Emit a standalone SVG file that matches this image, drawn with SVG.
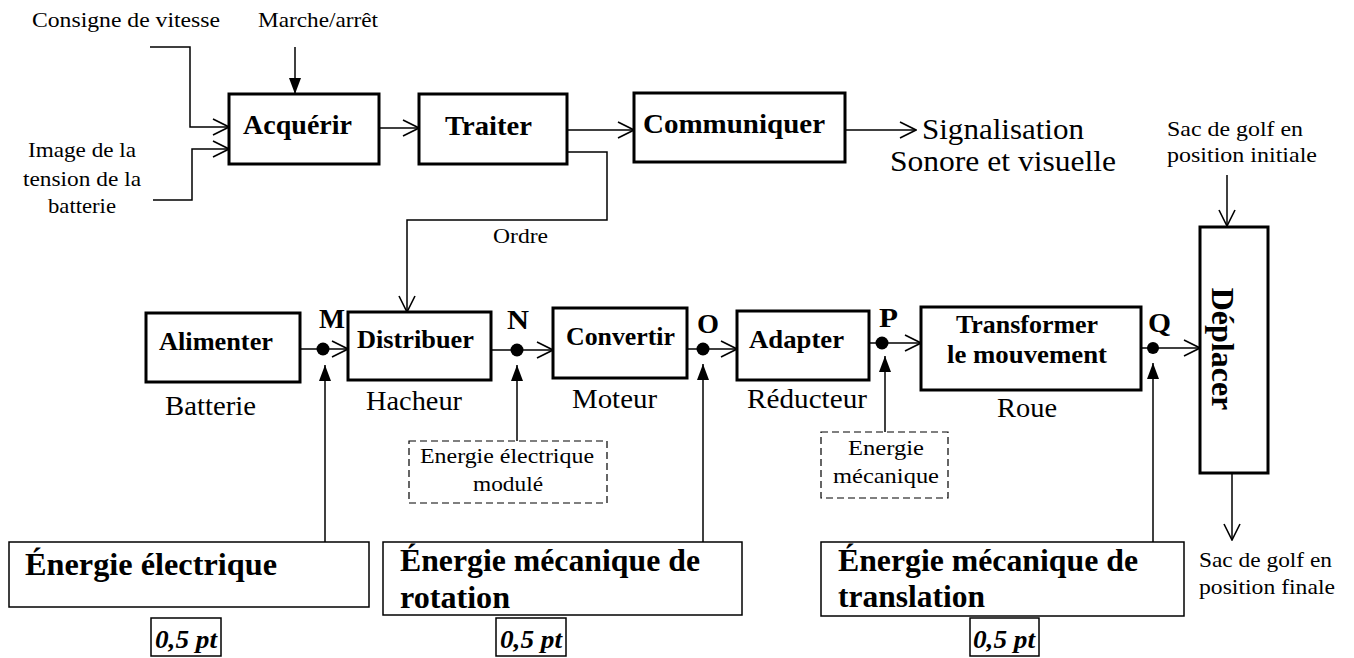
<svg xmlns="http://www.w3.org/2000/svg" width="1354" height="658" viewBox="0 0 1354 658" font-family="'Liberation Serif', 'DejaVu Serif', serif">
<style>
text{font-family:'Liberation Serif','DejaVu Serif',serif;fill:#000}
.s{font-size:22px}
.m{font-size:27px}
.sig{font-size:29px}
.fb{font-weight:bold;font-size:28px}
.fb2{font-weight:bold;font-size:26px}
.big{font-weight:bold;font-size:32px}
.lbl{font-weight:bold;font-size:28px}
.pt{font-weight:bold;font-style:italic;font-size:26px}
.box{fill:#fff;stroke:#000;stroke-width:3}
.tbox{fill:#fff;stroke:#000;stroke-width:1.5}
.dbox{fill:#fff;stroke:#000;stroke-width:1.2;stroke-dasharray:7 4}
.ln{fill:none;stroke:#000;stroke-width:1.5}
</style>
<defs>
<marker id="open" viewBox="0 0 18 18" markerWidth="18" markerHeight="18" refX="17" refY="9" orient="auto" markerUnits="userSpaceOnUse">
<path d="M1,1 L17,9 L1,17" fill="none" stroke="#000" stroke-width="1.6"/>
</marker>
<marker id="fill" viewBox="0 0 16 12" markerWidth="16" markerHeight="12" refX="16" refY="6" orient="auto" markerUnits="userSpaceOnUse">
<path d="M0,0 L16,6 L0,12 Z" fill="#000"/>
</marker>
</defs>

<g id="connectors">
<polyline class="ln" points="150,47 190,47 190,127 229,127" marker-end="url(#open)"/>
<polyline class="ln" points="153,200 192,200 192,149 229,149" marker-end="url(#open)"/>
<line class="ln" x1="295" y1="47" x2="295" y2="94" marker-end="url(#fill)"/>
<line class="ln" x1="379" y1="128" x2="419" y2="128" marker-end="url(#open)"/>
<line class="ln" x1="567" y1="130" x2="634" y2="130" marker-end="url(#open)"/>
<line class="ln" x1="845" y1="130" x2="916" y2="130" marker-end="url(#open)"/>
<polyline class="ln" points="567,152 607,152 607,220 407,220 407,312" marker-end="url(#open)"/>
<line class="ln" x1="1227" y1="175" x2="1227" y2="226" marker-end="url(#open)"/>
<line class="ln" x1="1232" y1="473" x2="1232" y2="540" marker-end="url(#open)"/>

<line class="ln" x1="300" y1="349" x2="348" y2="349" marker-end="url(#open)"/>
<line class="ln" x1="491" y1="350" x2="553" y2="350" marker-end="url(#open)"/>
<line class="ln" x1="687" y1="349" x2="737" y2="349" marker-end="url(#open)"/>
<line class="ln" x1="869" y1="343" x2="921" y2="343" marker-end="url(#open)"/>
<line class="ln" x1="1141" y1="348" x2="1200" y2="348" marker-end="url(#open)"/>

<circle cx="323" cy="349" r="6.5"/>
<circle cx="517" cy="350" r="6.5"/>
<circle cx="703" cy="349" r="6.5"/>
<circle cx="882" cy="343" r="6.5"/>
<circle cx="1153" cy="348" r="6"/>

<line class="ln" x1="325" y1="542" x2="325" y2="365" marker-end="url(#fill)"/>
<line class="ln" x1="517" y1="441" x2="517" y2="365" marker-end="url(#fill)"/>
<line class="ln" x1="703" y1="542" x2="703" y2="364" marker-end="url(#fill)"/>
<line class="ln" x1="885" y1="432" x2="885" y2="356" marker-end="url(#fill)"/>
<line class="ln" x1="1153" y1="542" x2="1153" y2="363" marker-end="url(#fill)"/>
</g>

<g id="inputs">
<text class="s" x="32" y="27" textLength="188" lengthAdjust="spacingAndGlyphs">Consigne de vitesse</text>
<text class="s" x="258" y="27" textLength="120" lengthAdjust="spacingAndGlyphs">Marche/arrêt</text>
<text class="s" x="28" y="157" textLength="108" lengthAdjust="spacingAndGlyphs">Image de la</text>
<text class="s" x="23" y="186" textLength="118" lengthAdjust="spacingAndGlyphs">tension de la</text>
<text class="s" x="48" y="213" textLength="68" lengthAdjust="spacingAndGlyphs">batterie</text>
<text class="s" x="493" y="243" textLength="55" lengthAdjust="spacingAndGlyphs">Ordre</text>
<text class="sig" x="922" y="139" textLength="162" lengthAdjust="spacingAndGlyphs">Signalisation</text>
<text class="sig" x="890" y="171" textLength="226" lengthAdjust="spacingAndGlyphs">Sonore et visuelle</text>
<text class="s" x="1167" y="136" textLength="136" lengthAdjust="spacingAndGlyphs">Sac de golf en</text>
<text class="s" x="1167" y="162" textLength="150" lengthAdjust="spacingAndGlyphs">position initiale</text>
<text class="s" x="1199" y="567" textLength="133" lengthAdjust="spacingAndGlyphs">Sac de golf en</text>
<text class="s" x="1199" y="594" textLength="136" lengthAdjust="spacingAndGlyphs">position finale</text>
</g>

<g id="acquerir"><rect class="box" x="229" y="94" width="150" height="70"/><text class="fb" x="243" y="134" textLength="109" lengthAdjust="spacingAndGlyphs">Acquérir</text></g>
<g id="traiter"><rect class="box" x="419" y="94" width="148" height="70"/><text class="fb" x="445" y="135" textLength="87" lengthAdjust="spacingAndGlyphs">Traiter</text></g>
<g id="communiquer"><rect class="box" x="634" y="93" width="211" height="69"/><text class="fb" x="643" y="133" textLength="182" lengthAdjust="spacingAndGlyphs">Communiquer</text></g>

<g id="alimenter"><rect class="box" x="146" y="313" width="154" height="69"/><text class="fb2" x="159" y="350" textLength="114" lengthAdjust="spacingAndGlyphs">Alimenter</text><text class="m" x="165" y="415" textLength="91" lengthAdjust="spacingAndGlyphs">Batterie</text></g>
<g id="distribuer"><rect class="box" x="348" y="312" width="143" height="68"/><text class="fb2" x="357" y="348" textLength="117" lengthAdjust="spacingAndGlyphs">Distribuer</text><text class="m" x="366" y="410" textLength="96" lengthAdjust="spacingAndGlyphs">Hacheur</text></g>
<g id="convertir"><rect class="box" x="553" y="308" width="134" height="70"/><text class="fb2" x="566" y="345" textLength="109" lengthAdjust="spacingAndGlyphs">Convertir</text><text class="m" x="572" y="408" textLength="85" lengthAdjust="spacingAndGlyphs">Moteur</text></g>
<g id="adapter"><rect class="box" x="737" y="311" width="132" height="69"/><text class="fb2" x="749" y="348" textLength="95" lengthAdjust="spacingAndGlyphs">Adapter</text><text class="m" x="747" y="408" textLength="120" lengthAdjust="spacingAndGlyphs">Réducteur</text></g>
<g id="transformer"><rect class="box" x="921" y="307" width="220" height="83"/><text class="fb2" x="956" y="333" textLength="142" lengthAdjust="spacingAndGlyphs">Transformer</text><text class="fb2" x="947" y="363" textLength="160" lengthAdjust="spacingAndGlyphs">le mouvement</text><text class="m" x="997" y="417" textLength="60" lengthAdjust="spacingAndGlyphs">Roue</text></g>
<g id="deplacer"><rect class="box" x="1200" y="227" width="68" height="246"/><text class="big" x="0" y="0" text-anchor="middle" transform="translate(1212,349) rotate(90)">Déplacer</text></g>

<g id="points">
<text class="lbl" x="319" y="328" textLength="26" lengthAdjust="spacingAndGlyphs">M</text>
<text class="lbl" x="507" y="329" textLength="22" lengthAdjust="spacingAndGlyphs">N</text>
<text class="lbl" x="697" y="333" textLength="22" lengthAdjust="spacingAndGlyphs">O</text>
<text class="lbl" x="879" y="327" textLength="19" lengthAdjust="spacingAndGlyphs">P</text>
<text class="lbl" x="1148" y="332" textLength="23" lengthAdjust="spacingAndGlyphs">Q</text>
</g>

<g id="energie-modulee"><rect class="dbox" x="409" y="441" width="198" height="62"/><text class="s" x="420" y="463" textLength="174" lengthAdjust="spacingAndGlyphs">Energie électrique</text><text class="s" x="473" y="491" textLength="70" lengthAdjust="spacingAndGlyphs">modulé</text></g>
<g id="energie-mecanique"><rect class="dbox" x="821" y="432" width="127" height="66"/><text class="s" x="848" y="455" textLength="76" lengthAdjust="spacingAndGlyphs">Energie</text><text class="s" x="833" y="483" textLength="106" lengthAdjust="spacingAndGlyphs">mécanique</text></g>

<g id="energie-electrique"><rect class="tbox" x="9" y="542" width="360" height="65"/><text class="big" x="25" y="575" textLength="252" lengthAdjust="spacingAndGlyphs">Énergie électrique</text></g>
<g id="energie-rotation"><rect class="tbox" x="383" y="542" width="359" height="73"/><text class="big" x="400" y="571" textLength="300" lengthAdjust="spacingAndGlyphs">Énergie mécanique de</text><text class="big" x="400" y="608" textLength="110" lengthAdjust="spacingAndGlyphs">rotation</text></g>
<g id="energie-translation"><rect class="tbox" x="821" y="542" width="363" height="74"/><text class="big" x="838" y="571" textLength="300" lengthAdjust="spacingAndGlyphs">Énergie mécanique de</text><text class="big" x="838" y="607" textLength="147" lengthAdjust="spacingAndGlyphs">translation</text></g>

<g id="pt1"><rect class="tbox" x="151" y="618" width="70" height="38"/><text class="pt" x="155" y="648" textLength="62" lengthAdjust="spacingAndGlyphs">0,5 pt</text></g>
<g id="pt2"><rect class="tbox" x="496" y="618" width="70" height="38"/><text class="pt" x="500" y="648" textLength="62" lengthAdjust="spacingAndGlyphs">0,5 pt</text></g>
<g id="pt3"><rect class="tbox" x="970" y="618" width="69" height="38"/><text class="pt" x="973" y="648" textLength="62" lengthAdjust="spacingAndGlyphs">0,5 pt</text></g>
</svg>
